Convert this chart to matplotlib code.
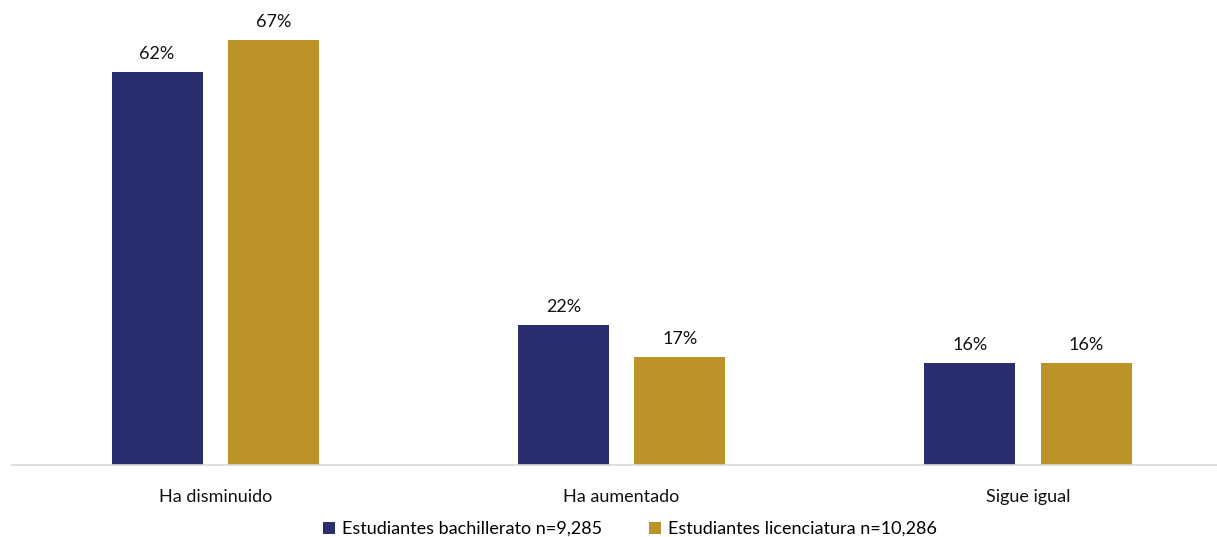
import matplotlib
matplotlib.use("Agg")
import matplotlib.pyplot as plt
import numpy as np

categories = ["Ha disminuido", "Ha aumentado", "Sigue igual"]
bachillerato = [62, 22, 16]
licenciatura = [67, 17, 16]
series_labels = ["Estudiantes bachillerato n=9,285", "Estudiantes licenciatura n=10,286"]
colors = ["#2B2E6E", "#BC9329"]

plt.rcParams["font.family"] = ["Lato", "DejaVu Sans"]

fig = plt.figure(figsize=(12.17, 5.37), dpi=100)
ax = fig.add_axes([12 / 1217, 72 / 537, 1205 / 1217, 465 / 537])

x = np.arange(len(categories))
width = 0.224
offset = 0.143

for vals, off, color, label in zip([bachillerato, licenciatura], [-offset, offset], colors, series_labels):
    bars = ax.bar(x + off, vals, width, color=color, label=label, zorder=2)
    for b, v in zip(bars, vals):
        ax.text(b.get_x() + b.get_width() / 2, v + 1.6, f"{v}%", ha="center", va="bottom",
                fontsize=13, color="#111111")

ax.set_xlim(-0.5, 2.465)
ax.set_ylim(0, 73.3)
ax.set_yticks([])
ax.set_xticks(x)
ax.set_xticklabels(categories, fontsize=13, color="#111111")
ax.tick_params(axis="x", length=0, pad=17)
for s in ["top", "right", "left"]:
    ax.spines[s].set_visible(False)
ax.spines["bottom"].set_color("#D9D9D9")
ax.spines["bottom"].set_linewidth(1.2)

fig.legend(loc="center", bbox_to_anchor=(630 / 1217, 1 - 529 / 537), ncol=2, frameon=False,
           fontsize=13, handlelength=0.65, handleheight=0.65, handletextpad=0.4, columnspacing=2.6)

fig.savefig("out.png", dpi=100)
